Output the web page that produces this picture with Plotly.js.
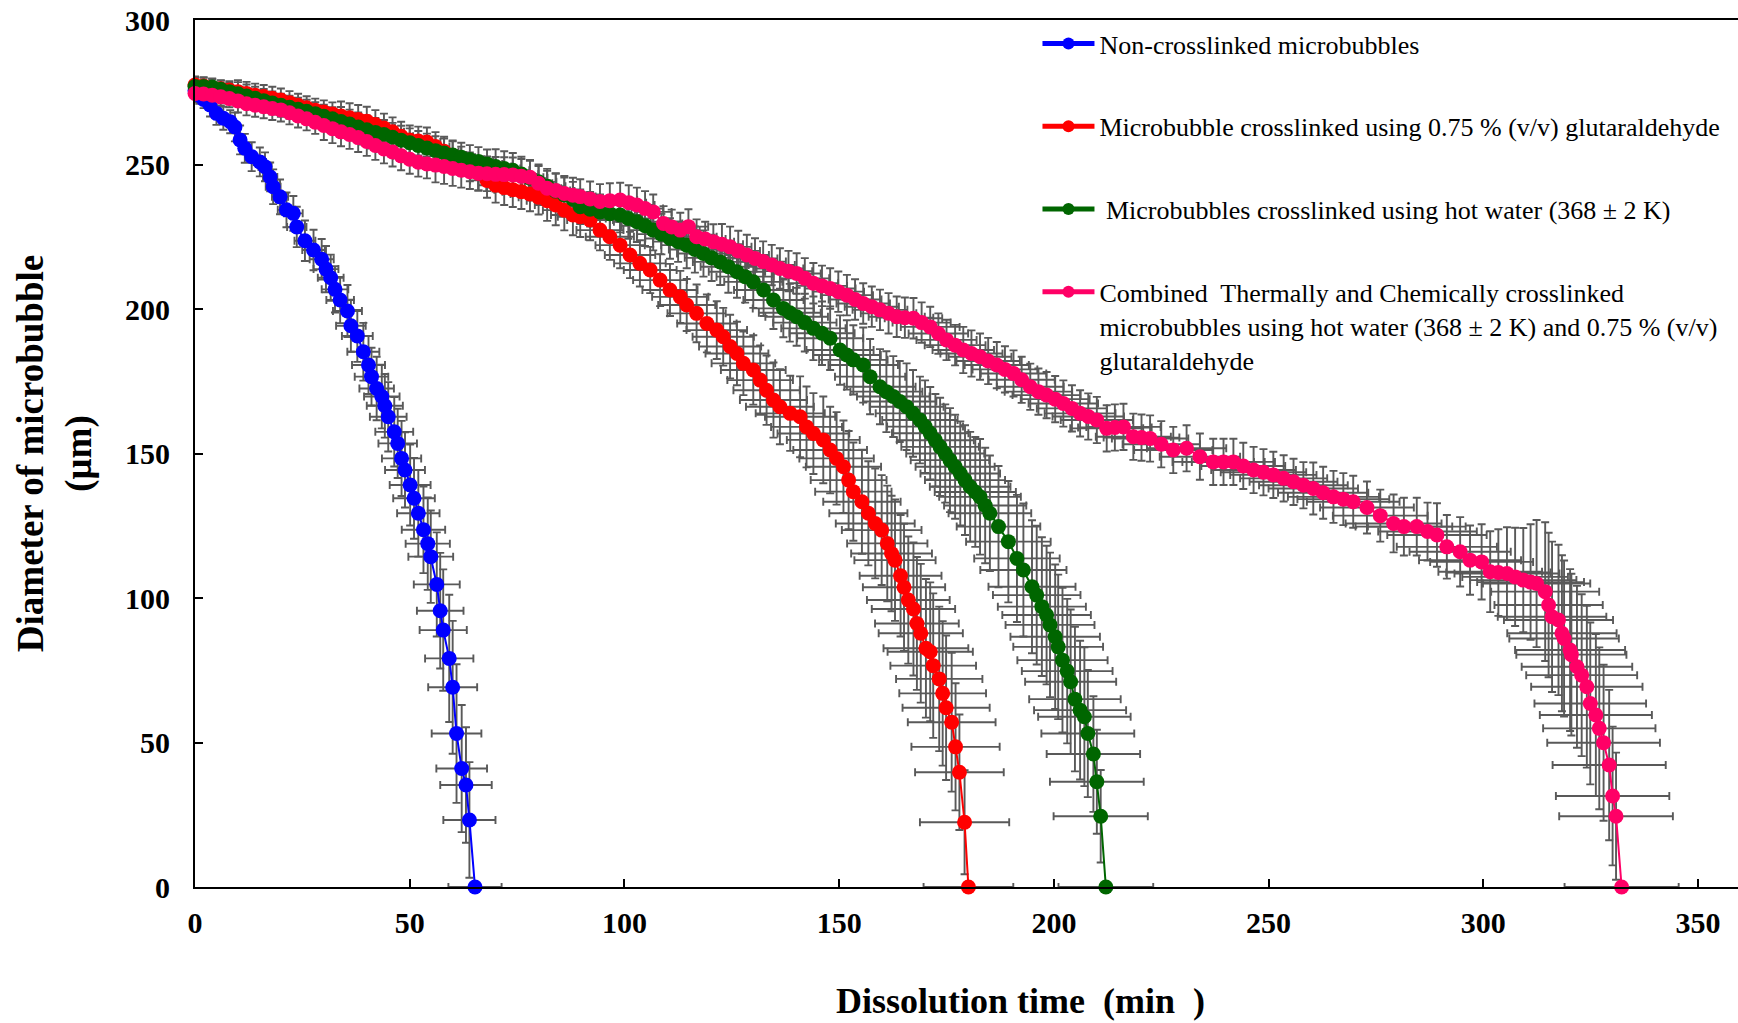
<!DOCTYPE html>
<html><head><meta charset="utf-8">
<script src="https://cdn.plot.ly/plotly-3.0.1.min.js"></script>
<style>html,body{margin:0;padding:0;background:#fff}#chart{width:1738px;height:1023px}</style>
</head><body><div id="chart"></div>
<script>
const seriesNames = [
  "Non-crosslinked microbubbles",
  "Microbubble crosslinked using 0.75 % (v/v) glutaraldehyde",
  "\u00a0Microbubbles crosslinked using hot water (368 \u00b1 2 K)",
  "Combined\u00a0 Thermally and Chemically crosslinked<br>microbubbles using hot water (368 \u00b1 2 K) and 0.75 % (v/v)<br>glutaraldehyde"
];
const seriesColors = ["#0000FF", "#FF0000", "#006600", "#FF0066"];
const xTickValues = [0, 50, 100, 150, 200, 250, 300, 350];
const yTickValues = [0, 50, 100, 150, 200, 250, 300];

// Non-crosslinked
const blueTime = [0,1,2,3.5,5,6.6,8.2,9.3,10.5,11.6,13.2,15.1,16.3,17.5,18.2,19.8,21.3,22.9,23.7,25.6,27.6,29.5,30.5,31.6,32.6,33.8,35.5,36.3,37.8,39.2,40.4,41.1,42.3,43.5,44.2,45,46.4,47.2,48.1,48.9,50.1,51,52,53.2,54.2,54.9,56.3,57.1,57.8,59.2,60,60.9,62.1,63.1,63.9,65.2];
const blueDiameter = [275.5,274,272.5,270.6,267.7,266,264.8,263,258.5,255.6,252.7,250.9,249.2,245.7,242.3,238.8,234.3,233.1,228.4,223.6,220.4,217.2,213.8,210.8,206.8,203.1,199.3,194.2,190.7,185.2,180.6,176.6,172.5,169.7,166.5,162.7,157.5,153.5,148.3,144.3,139.1,134.5,129.3,123.6,118.8,114.3,104.7,95.6,88.9,79.1,69.1,53.1,41,35.3,23.2,0];
const blueErrY = [2,3,3,4,4,4,4,5,5,5,5,5,5,5,6,6,6,6,7,7,7,7,8,8,8,8,9,9,9,10,10,10,11,11,11,12,12,12,13,13,14,14,15,15,16,16,18,20,21,22,23,24,22,20,20,0];

// Glutaraldehyde
const redTime = [0,2,4,6,8,10,12,14,16,18,20,22,24,26,28,30,32,34,36,38,40,42,44,46,48,50,52,54,56,58,60,62,64,66,68,70,72,74,76,78,80,82,84,86,88,89.7,92,94.3,96.6,99,101.3,103.6,106,108.3,110.6,113,114.5,116.8,119.2,121.5,123,124.6,126.2,127.7,130,131.6,133.1,134.7,136.2,138.6,140.9,142.4,144,146.3,147.9,149.4,151,152.2,153.3,155.3,156.8,158.4,159.9,161.2,162.2,163,164.3,165.1,166.1,167.3,168.1,169,170.2,171.2,171.9,173.3,174.1,174.9,176.2,177.1,178,179.2,180.1];
const redDiameter = [277.5,277.2,276.6,276.2,275.8,275.2,274.6,274.0,273.5,272.9,272.3,271.4,270.5,269.6,268.8,268.2,267.5,266.8,266.2,265.6,265.0,263.8,262.6,261.3,259.8,258.5,258.1,257.8,256.2,254.6,253.0,251.2,249.2,247.0,244.5,242.8,242.0,241.3,240.6,239.8,238.7,237.5,236.0,234.2,232.5,231.9,230.8,227.3,225.0,222.1,218.7,215.8,213.5,210.0,206.6,204.2,201.4,198.5,195.0,192.7,190.4,187.0,184.6,181.2,178.9,175.4,171.9,168.5,166.2,163.9,162.7,159.2,156.9,154.7,151.2,148.3,145.4,140.8,136.8,133.3,129.3,125.8,123.5,118.9,115.4,113.1,107.7,103.7,99.3,96.2,91.2,87.8,82.6,81.4,76.6,72.0,67.0,62.0,57.0,48.5,39.7,22.4,0];
const redErrY = [3,3,3,3,3,4,4,4,4,4,4,4,4,4,4,4,4,5,5,5,5,5,5,5,5,5,5,5,5,5,5,5,5,6,6,6,6,6,6,6,6,7,7,7,7,7,7,7,8,8,8,8,8,9,9,9,9,10,10,10,10,11,11,11,12,12,12,13,13,13,14,14,14,15,15,16,16,17,17,18,18,19,19,20,20,21,21,22,22,23,23,24,24,24,25,25,25,25,24,22,20,18,0];

// Hot water
const greenTime = [0,2,4,6,8,10,12,14,16,18,20,22,24,26,28,30,32,34,36,38,40,42,44,46,48,50,52,54,56,58,60,62,64,66,68,70,72,74,76,78,80,82,84,86,88,89.7,92,94.3,96.6,99,100.9,102.9,104.8,106.7,108.6,110.6,112.5,114.5,116.4,118.4,120.3,122.3,124.2,126.2,128.1,130,132.4,134.7,137,138.5,140.1,142,144,146,147.9,150.2,151.8,153.3,155.6,157.2,159.5,161,162.6,164.1,165.7,167.2,168.8,170,171.2,172.4,173.5,174.7,175.8,177,178.2,179.3,180.5,181.7,182.8,184,185.1,187.1,189.4,191.4,192.9,194.9,196,197.2,198.3,199.1,200.3,201,202,203.1,203.9,204.9,206.1,207.1,207.9,209.2,210,210.9,212.1];
const greenDiameter = [277,277,276.8,276,275.2,274.5,273.7,272.9,272.1,271.3,270.5,269.8,269.1,268.4,267.6,266.7,265.8,264.9,264.0,263.0,262.0,261.1,260.4,259.4,258.4,257.5,256.6,255.7,254.8,254.0,253.3,252.5,251.7,251.0,250.2,249.3,248.6,248.0,246.7,245.3,244.0,242.5,240.8,239.5,238.0,235.4,234.5,233.6,233.0,232.5,231.3,230.2,228.8,227.3,225.9,224.4,223.3,222.1,220.6,219.2,217.7,216.3,214.6,212.9,211.2,209.4,206.6,203.1,200.2,198.7,197.3,195.3,193.3,191.6,189.9,185.8,184.1,182.4,180.6,176.6,173.1,171.4,169.7,168.0,166.2,163.9,161.6,159.3,157.0,154.6,152.3,150.0,147.7,145.4,143.1,140.8,138.5,136.7,135.0,132.0,129.3,124.7,119.5,113.7,109.7,103.9,101.0,97.0,94.1,90.7,86.6,83.1,78.5,74.7,71.0,65.0,61.2,58.9,53.1,46.0,36.4,24.5,0];
const greenErrY = [3,3,3,3,3,4,4,4,4,4,4,4,4,4,4,4,4,5,5,5,5,5,5,5,5,5,5,5,5,5,5,5,5,5,5,6,6,6,6,6,6,6,6,6,6,6,6,6,6,6,7,7,7,7,7,7,7,8,8,8,8,8,9,9,9,9,9,10,10,10,10,10,11,11,11,12,12,12,13,13,13,14,14,14,15,15,15,16,16,16,17,17,18,18,18,19,19,19,20,20,20,21,21,22,23,23,24,24,24,25,25,25,25,25,25,25,24,24,22,20,18,16,0];

// Combined thermal + chemical
const pinkTime = [0,2,4,6,8,10,12,14,16,18,20,22,24,26,28,30,32,34,36,38,40,42,44,46,48,50,52,54,56,58,60,62,64,66,68,70,72,74,76,78,80,82,84,86,88,89.7,92,94.3,96.6,99,101,102.9,104.8,106.7,109.1,111,113,114.9,116.8,118.8,120.7,122.7,124.6,126.5,128.5,130.4,132.3,134.3,136.2,138.2,140.1,142,144,146,147.9,149.8,151.8,153.7,155.6,157.6,159.5,161.5,163.4,165.3,167.3,169.2,171.2,173.1,175,177,178.9,180.8,182.8,184.7,186.7,188.6,190.6,192.5,194.5,196.4,198.3,200.3,202.2,204.2,206.1,208,210,212.3,214.2,216.2,218.5,220.4,222.4,225,227.8,230.9,234,237.1,239.5,241.8,244.1,246.5,248.8,251.1,253.5,255.8,258.1,260.4,262.7,265.1,267.4,269.7,272.9,276,279.1,281.5,284.5,287,289.2,291.5,294.6,296.9,299.6,301.6,303.5,305.5,307.4,309.3,311,312.4,314.4,315.2,316,317.5,318.3,318.8,320.2,320.5,321.8,322.9,324.1,324.9,326.2,327,328,329.3,330.1,330.9,332.2];
const pinkDiameter = [274.6,274.4,274.0,273.4,272.8,272.0,271.0,270.5,270.0,269.4,268.9,267.9,266.8,265.8,264.6,263.5,262.4,261.3,260.4,259.3,258.0,256.6,255.4,254.3,253.0,251.8,250.8,250.2,249.8,249.3,248.6,248.0,247.5,247.0,246.8,246.6,246.5,246.4,245.9,245.6,243.5,241.8,241.0,240.0,239.4,238.9,238.1,237.2,237.5,237.7,236.8,236.0,234.8,233.6,229.6,228.4,227.3,228.5,225.0,224.2,223.3,222.4,221.5,220.1,218.7,217.5,216.4,215.2,214.0,213.1,212.3,210.6,208.9,208.0,207.1,206.0,204.8,203.3,201.9,200.8,199.7,198.5,197.3,197.0,196.8,195.3,193.8,191.5,189.3,187.5,185.8,184.6,183.5,182.0,180.6,179.1,177.7,175.5,173.1,171.4,170.2,168.8,167.3,165.6,163.9,162.8,161.6,158.7,159.0,159.2,155.8,155.5,155.2,153.2,151.2,151.8,148.9,147.1,147.1,147.1,145.7,144.3,143.5,142.6,141.4,140.2,139.0,137.9,136.4,135.0,134.2,133.3,131.3,128.5,125.8,124.7,124.7,123.0,121.8,117.7,116.0,113.1,112.5,109.1,108.8,108.5,107.3,106.2,105.5,105.0,102.2,97.6,93.5,92.4,87.8,86.0,82.0,80.4,76.2,73.3,69.3,63.5,59.5,54.9,49.9,42.2,31.5,24.5,0];
const pinkErrY = [3,3,3,3,3,4,4,4,4,4,4,4,4,4,4,5,5,5,5,5,5,5,5,5,5,5,5,5,6,6,6,6,6,6,6,6,6,6,6,6,6,6,6,6,6,6,6,6,6,6,6,6,6,6,6,6,6,6,6,6,6,7,7,7,7,7,7,7,7,7,7,7,7,7,7,7,7,7,7,7,7,7,7,7,7,7,7,7,7,7,8,8,8,8,8,8,8,8,8,8,8,8,8,8,8,8,8,8,8,8,8,8,8,8,8,8,8,8,8,8,8,8,8,8,8,8,8,9,9,9,9,9,9,9,10,10,10,10,11,11,12,12,13,14,15,16,17,18,20,22,24,25,26,26,27,27,28,28,28,28,28,28,28,28,27,26,24,22,0];

// horizontal error bars, percent of time value
const errXPercent = [9.5, 5.8, 5.2, 4.0];

const times = [blueTime, redTime, greenTime, pinkTime];
const diams = [blueDiameter, redDiameter, greenDiameter, pinkDiameter];
const errsY = [blueErrY, redErrY, greenErrY, pinkErrY];

const errColor = "#595959";
const traces = [];
// error bars first (drawn under all markers)
for (let i = 0; i < 4; i++) {
  traces.push({
    type: "scatter", mode: "markers", x: times[i], y: diams[i],
    marker: {size: 2, color: "rgba(0,0,0,0)"},
    error_y: {type: "data", array: errsY[i], visible: true, color: errColor, thickness: 1.9, width: 4},
    error_x: {type: "percent", value: errXPercent[i], visible: true, color: errColor, thickness: 1.9, width: 4},
    showlegend: false, hoverinfo: "skip", cliponaxis: false
  });
}
for (let i = 0; i < 4; i++) {
  traces.push({
    type: "scatter", mode: "lines+markers", name: seriesNames[i],
    legendgroup: "g" + i,
    x: times[i], y: diams[i],
    line: {color: seriesColors[i], width: 2},
    marker: {color: seriesColors[i], size: 15},
    cliponaxis: false
  });
}

const serif = "Liberation Serif, Times New Roman, serif";
const tickFont = {family: serif, size: 30, color: "#000", weight: "bold"};
const layout = {
  width: 1738, height: 1023,
  margin: {l: 195, r: 0, t: 20, b: 136},
  paper_bgcolor: "#fff", plot_bgcolor: "#fff",
  showlegend: true,
  legend: {
    x: 0.546, y: 1.0, xanchor: "left", yanchor: "top",
    bgcolor: "rgba(0,0,0,0)", borderwidth: 0,
    font: {family: serif, size: 26, color: "#000"},
    tracegroupgap: 46, valign: "top", itemwidth: 52, itemsizing: "constant"
  },
  xaxis: {
    range: [0, 359.3], tickvals: xTickValues, ticktext: xTickValues.map(String),
    ticks: "inside", ticklen: 8, tickwidth: 2, tickcolor: "#000",
    showline: true, linecolor: "#000", linewidth: 2, mirror: true,
    showgrid: false, zeroline: false, tickfont: tickFont, ticklabelstandoff: 8
  },
  yaxis: {
    range: [0, 300], tickvals: yTickValues, ticktext: yTickValues.map(String),
    ticks: "inside", ticklen: 8, tickwidth: 2, tickcolor: "#000",
    showline: true, linecolor: "#000", linewidth: 2, mirror: false,
    showgrid: false, zeroline: false, tickfont: tickFont, ticklabelstandoff: 17,
    title: {text: "<b>Diameter of microbubble<br>(\u03bcm)</b>", standoff: 22,
      font: {family: serif, size: 37, color: "#000", weight: "bold"}}
  },
  annotations: [{
    text: "<b>Dissolution time\u00a0 (min\u00a0 )</b>", xref: "paper", yref: "paper",
    x: 0.5347, y: -0.106, xanchor: "center", yanchor: "top", showarrow: false,
    font: {family: serif, size: 36, color: "#000", weight: "bold"}
  }]
};
Plotly.newPlot("chart", traces, layout, {displayModeBar: false, staticPlot: true});
</script></body></html>
